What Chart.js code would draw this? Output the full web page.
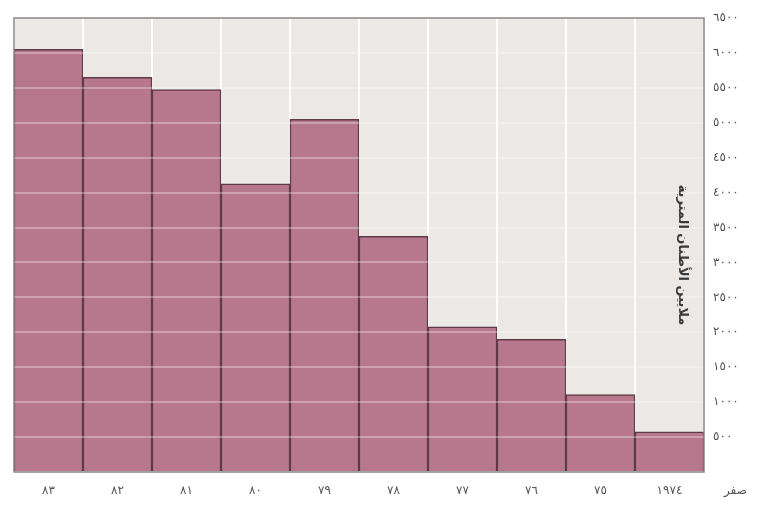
<!DOCTYPE html>
<html>
<head>
<meta charset="utf-8">
<script src="https://cdn.jsdelivr.net/npm/chart.js@4"></script>
<style>
  html, body { margin: 0; padding: 0; background: #fff; }
  #wrap { width: 776px; height: 506px; }
</style>
</head>
<body>
<div id="wrap"><canvas id="grafico"></canvas></div>
<script>
// DADOS
const anos = ['٨٣', '٨٢', '٨١', '٨٠', '٧٩', '٧٨', '٧٧', '٧٦', '٧٥', '١٩٧٤']
const valores = [6050, 5650, 5475, 4125, 5050, 3375, 2080, 1900, 1110, 575]
const tituloEixo = 'ملايين الأطنان المترية'
const rotuloZero = 'صفر'
const yMax = 6500
const yPasso = 500

function arabicDigits(n) {
    return String(n).replace(/[0-9]/g, d => '٠١٢٣٤٥٦٧٨٩'[d])
}

// fundo cinza da area do grafico + textos extras
const fundoPlugin = {
    id: 'fundo',
    beforeDraw(chart) {
        const { ctx, chartArea: a } = chart
        ctx.save()
        ctx.fillStyle = '#ebe8e6'
        ctx.fillRect(a.left, a.top, a.right - a.left, a.bottom - a.top)
        ctx.restore()
    },
    afterDraw(chart) {
        const { ctx, chartArea: a } = chart
        ctx.save()
        ctx.strokeStyle = '#8a8686'
        ctx.lineWidth = 1.5
        ctx.strokeRect(a.left, a.top, a.right - a.left, a.bottom - a.top)
        // titulo do eixo y (vertical)
        ctx.translate(a.right - 22, (a.top + a.bottom) / 2 + 10)
        ctx.rotate(Math.PI / 2)
        ctx.fillStyle = '#3a3a3a'
        ctx.font = 'bold 13px "DejaVu Sans"'
        ctx.textAlign = 'center'
        ctx.textBaseline = 'middle'
        ctx.direction = 'rtl'
        ctx.fillText(tituloEixo, 0, 0)
        ctx.restore()
        // "zero"
        ctx.save()
        ctx.fillStyle = '#555'
        ctx.font = '12px "DejaVu Sans"'
        ctx.textAlign = 'left'
        ctx.textBaseline = 'middle'
        ctx.fillText(rotuloZero, a.right + 20, 491)
        ctx.restore()
    }
}

const ctx = document.getElementById('grafico').getContext('2d')

new Chart(ctx, {
    type: 'bar',
    data: {
        labels: anos,
        datasets: [{
            data: valores,
            backgroundColor: '#b7788d',
            borderColor: '#5e3b49',
            borderWidth: 1.5,
            borderSkipped: 'bottom',
            barPercentage: 1,
            categoryPercentage: 1
        }]
    },
    options: {
        responsive: true,
        maintainAspectRatio: false,
        animation: false,
        layout: { padding: { left: 14, top: 18, bottom: 0, right: 0 } },
        plugins: {
            legend: { display: false },
            tooltip: { enabled: false }
        },
        scales: {
            x: {
                grid: { color: '#ffffff', lineWidth: 2, drawTicks: false },
                border: { display: false },
                afterFit(scale) { scale.height = 34 },
                ticks: {
                    color: '#555',
                    padding: 12,
                    font: { family: 'DejaVu Sans', size: 12 }
                }
            },
            y: {
                position: 'right',
                min: 0,
                max: yMax,
                grid: { color: 'rgba(255,255,255,0.3)', lineWidth: 2, drawTicks: false, z: 1 },
                border: { display: false },
                afterFit(scale) { scale.width = 72 },
                ticks: {
                    stepSize: yPasso,
                    color: '#555',
                    padding: 9,
                    font: { family: 'DejaVu Sans', size: 12 },
                    callback: v => v === 0 ? '' : arabicDigits(v)
                }
            }
        }
    },
    plugins: [fundoPlugin]
})
</script>
</body>
</html>
